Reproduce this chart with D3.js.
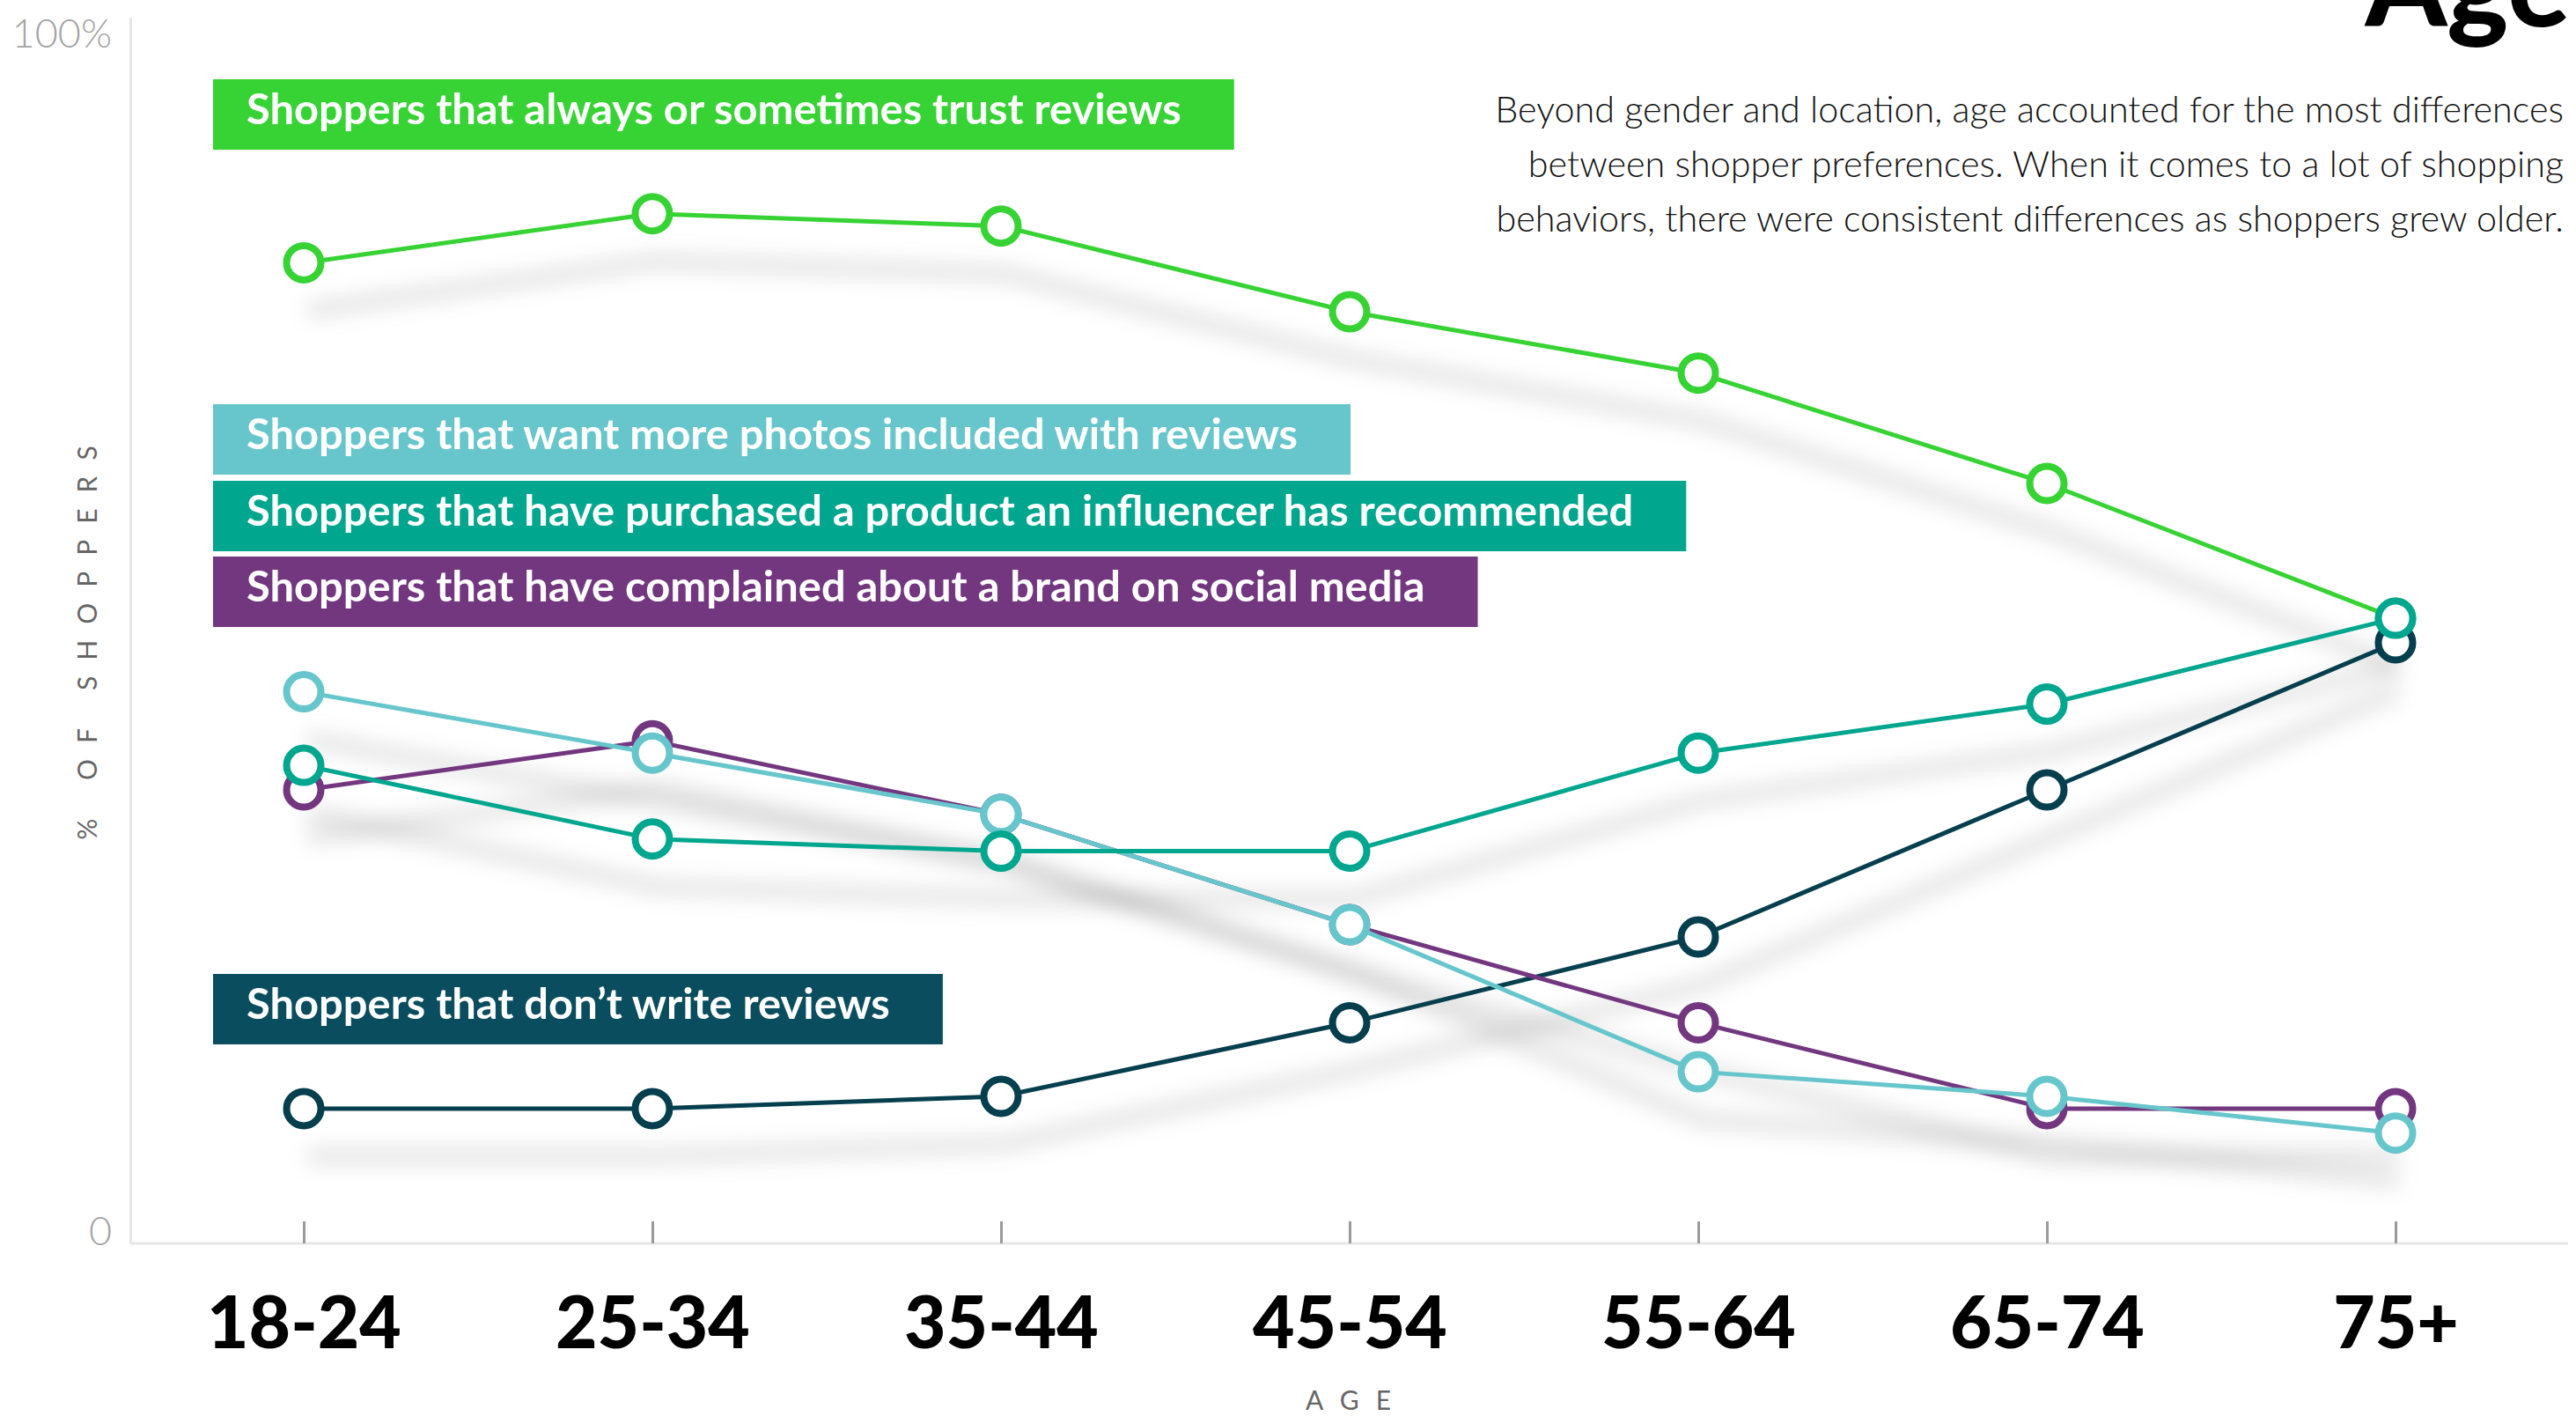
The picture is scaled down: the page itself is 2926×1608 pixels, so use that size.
<!DOCTYPE html>
<html>
<head>
<meta charset="utf-8">
<script src="https://cdn.jsdelivr.net/npm/d3@7"></script>
<style>
  html, body { margin: 0; padding: 0; background: #fff; }
  svg { display: block; }
</style>
</head>
<body>
<svg id="chart"></svg>
<script>
// ---- data ----
const ages = ['18-24', '25-34', '35-44', '45-54', '55-64', '65-74', '75+']

const trustReviews = [80, 84, 83, 76, 71, 62, 51]
const dontWrite = [11, 11, 12, 18, 25, 37, 49]
const complained = [37, 41, 35, 26, 18, 11, 11]
const morePhotos = [45, 40, 35, 26, 14, 12, 9]
const influencer = [39, 33, 32, 32, 40, 44, 51]

const seriesLabels = {
  trust: 'Shoppers that always or sometimes trust reviews',
  photos: 'Shoppers that want more photos included with reviews',
  influencer: 'Shoppers that have purchased a product an influencer has recommended',
  complained: 'Shoppers that have complained about a brand on social media',
  dontWrite: 'Shoppers that don\u2019t write reviews'
}

const yTicks = [0, 100]
const yTickLabels = ['0', '100%']

const title = 'Age'
const subtitleLines = [
  'Beyond gender and location, age accounted for the most differences',
  'between shopper preferences. When it comes to a lot of shopping',
  'behaviors, there were consistent differences as shoppers grew older.'
]
const yLabel = '% OF SHOPPERS'
const xLabel = 'AGE'

// ---- layout / style ----
const W = 2926
const H = 1608
const colors = {
  trust: '#37d334',
  photos: '#67c6cc',
  influencer: '#00a68e',
  complained: '#733780',
  dontWrite: '#053f4e'
}
const boxColors = {
  trust: '#37d334',
  photos: '#67c6cc',
  influencer: '#00a68e',
  complained: '#733780',
  dontWrite: '#0a4d5e'
}
// top edge of each legend box
const legendTop = { trust: 90, photos: 459, influencer: 546, complained: 632, dontWrite: 1106 }

// draw order bottom -> top
const series = [
  { key: 'trust', values: trustReviews },
  { key: 'dontWrite', values: dontWrite },
  { key: 'complained', values: complained },
  { key: 'photos', values: morePhotos },
  { key: 'influencer', values: influencer }
]

const svg = d3.select('#chart')
  .attr('width', W)
  .attr('height', H)
  .style('font-family', 'Lato, "Noto Sans", sans-serif')

const x = d3.scalePoint().domain(ages).range([345, 2721])
const y = d3.scaleLinear().domain([0, 100]).range([1412, 20])

const defs = svg.append('defs')
defs.append('filter')
    .attr('id', 'blur')
    .attr('x', '-20%').attr('y', '-50%')
    .attr('width', '140%').attr('height', '200%')
  .append('feGaussianBlur')
    .attr('stdDeviation', 11)

// ---- axes ----
const yAxis = d3.axisLeft(y)
  .tickValues(yTicks)
  .tickSize(0)
  .tickSizeOuter(0)
  .tickPadding(21)
  .tickFormat((d, i) => yTickLabels[i])

const gy = svg.append('g')
  .attr('transform', 'translate(148,0)')
  .call(yAxis)
gy.select('.domain').attr('stroke', '#e6e6e6').attr('stroke-width', 3)
gy.selectAll('text')
  .attr('fill', '#a3a3a3')
  .attr('font-size', 45)
  .attr('font-weight', 300)
  .attr('font-family', 'Lato, sans-serif')
  .attr('dy', d => d === 100 ? '0.74em' : '0.04em')

svg.append('line')
  .attr('x1', 148).attr('x2', 2917)
  .attr('y1', y(0)).attr('y2', y(0))
  .attr('stroke', '#e6e6e6')
  .attr('stroke-width', 3)

const xAxis = d3.axisBottom(x)
  .tickSizeInner(-25)
  .tickSizeOuter(0)
  .tickPadding(0)

const gx = svg.append('g')
  .attr('transform', `translate(0,${y(0)})`)
  .call(xAxis)
gx.select('.domain').remove()
gx.selectAll('.tick line').attr('stroke', '#9a9a9a').attr('stroke-width', 3)
gx.selectAll('.tick text')
  .attr('y', 119)
  .attr('dy', 0)
  .attr('fill', '#000')
  .attr('font-size', 82)
  .attr('font-weight', 900)
  .attr('font-family', 'Lato, sans-serif')

svg.append('text')
  .attr('transform', 'translate(110,721) rotate(-90)')
  .attr('text-anchor', 'middle')
  .attr('fill', '#666')
  .attr('font-size', 30)
  .attr('font-weight', 400)
  .attr('letter-spacing', 18)
  .text(yLabel)

svg.append('text')
  .attr('x', 1541)
  .attr('y', 1601)
  .attr('text-anchor', 'middle')
  .attr('fill', '#666')
  .attr('font-size', 30)
  .attr('font-weight', 400)
  .attr('letter-spacing', 19)
  .text(xLabel)

// ---- title and subtitle ----
svg.append('text')
  .attr('x', 2919)
  .attr('y', 30)
  .attr('text-anchor', 'end')
  .attr('font-size', 132)
  .attr('font-weight', 900)
  .attr('fill', '#000')
  .text(title)

// subtitle is squeezed horizontally with a scale on its group
const subG = svg.append('g')
const sub = subG.selectAll('text')
  .data(subtitleLines)
  .join('text')
    .attr('x', 0)
    .attr('y', (d, i) => 139 + i * 62)
    .attr('text-anchor', 'end')
    .attr('font-size', 42)
    .attr('font-weight', 300)
    .attr('fill', '#111')
    .text(d => d)
const subK = 1214 / sub.node().getComputedTextLength()
subG.attr('transform', `translate(2912,0) scale(${subK},1)`)

// ---- shadows ----
const line = d3.line()
  .x((d, i) => x(ages[i]))
  .y(d => y(d))

svg.append('g')
    .attr('filter', 'url(#blur)')
  .selectAll('path')
  .data(series)
  .join('path')
    .attr('transform', 'translate(4,54)')
    .attr('d', d => line(d.values))
    .attr('fill', 'none')
    .attr('stroke', '#000')
    .attr('stroke-opacity', 0.09)
    .attr('stroke-width', 22)

// ---- legend boxes ----
const legendKeys = ['trust', 'photos', 'influencer', 'complained', 'dontWrite']
const legend = svg.append('g').selectAll('g')
  .data(legendKeys)
  .join('g')
    .attr('transform', k => `translate(242,${legendTop[k]})`)

const rects = legend.append('rect')
  .attr('height', 80)
  .attr('fill', k => boxColors[k])

const labels = legend.append('text')
  .attr('y', 51)
  .attr('fill', '#fff')
  .attr('font-size', 48)
  .attr('font-weight', 700)
  .text(k => seriesLabels[k])

const labK = 1062 / labels.node().getComputedTextLength()
labels.attr('transform', `translate(38,0) scale(${labK},1)`)

rects.attr('width', function () {
  const t = this.parentNode.querySelector('text')
  return t.getComputedTextLength() * labK + 38 + 60
})

// ---- lines and markers ----
const groups = svg.append('g').selectAll('g')
  .data(series)
  .join('g')

groups.append('path')
  .attr('d', d => line(d.values))
  .attr('fill', 'none')
  .attr('stroke', d => colors[d.key])
  .attr('stroke-width', 5)
  .attr('stroke-linejoin', 'round')

groups.selectAll('circle')
  .data(d => d.values.map((v, i) => ({ v, i, key: d.key })))
  .join('circle')
    .attr('cx', d => x(ages[d.i]))
    .attr('cy', d => y(d.v))
    .attr('r', 19.5)
    .attr('fill', '#fff')
    .attr('stroke', d => colors[d.key])
    .attr('stroke-width', 8)
</script>
</body>
</html>
